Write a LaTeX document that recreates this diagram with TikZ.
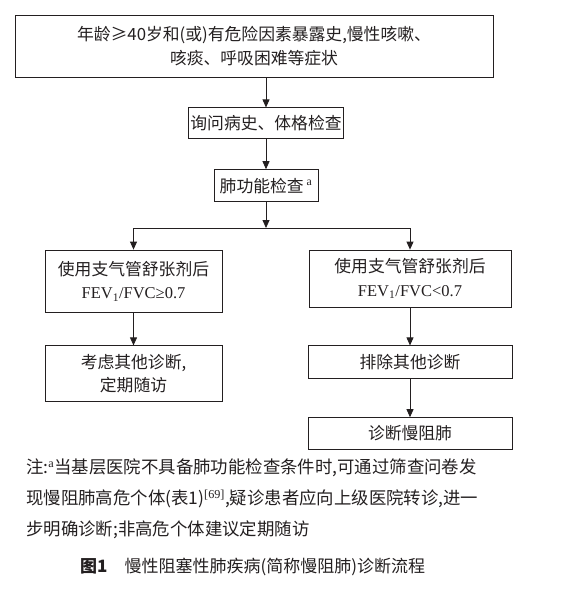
\documentclass[tikz,border=0pt]{standalone}
\usepackage{fontspec}
\setmainfont{Liberation Serif}
\newfontfamily\cjk{Noto Sans CJK SC}
\usepackage{tikz}
\usetikzlibrary{arrows.meta,positioning}
\definecolor{ink}{RGB}{35,31,32}

\begin{document}
\begin{tikzpicture}[
  x=1pt, y=-1pt,
  box/.style={draw=ink, line width=0.8pt, align=center, inner sep=0pt, text=ink,
              font=\cjk\fontsize{16.8}{23.5}\selectfont},
  arr/.style={-{Triangle[length=8pt, width=7pt]}, draw=ink, line width=0.8pt},
  note/.style={anchor=north west, align=left, inner sep=0pt, text=ink,
               font=\cjk\fontsize{17.4}{31}\selectfont}
]
\useasboundingbox (0,0) rectangle (586,596);

% main column
\node[box, minimum width=478pt, minimum height=62pt] (symptom) at (254,46)
  {年龄≥40岁和(或)有危险因素暴露史,慢性咳嗽、\\咳痰、呼吸困难等症状};
\node[box, minimum width=155pt, minimum height=31pt, below=30pt of symptom, xshift=12pt] (history)
  {询问病史、体格检查};
\node[box, minimum width=104pt, minimum height=32pt, below=30pt of history] (lungfn)
  {肺功能检查\,\textsuperscript{\rmfamily a}};

% two branches
\node[box, minimum width=177pt, minimum height=62pt] (normal) at (133.5,281)
  {使用支气管舒张剂后\\{\rmfamily\fontsize{16.5}{20}\selectfont FEV\textsubscript{1}/FVC≥0.7}};
\node[box, minimum width=202pt, minimum height=57pt] (obstr) at (410,278.5)
  {使用支气管舒张剂后\\{\rmfamily\fontsize{16.5}{20}\selectfont FEV\textsubscript{1}/FVC<0.7}};
\node[box, minimum width=177pt, minimum height=56pt, below=33pt of normal] (otherdx)
  {考虑其他诊断,\\定期随访};
\node[box, minimum width=204pt, minimum height=33pt, below=38pt of obstr] (exclude)
  {排除其他诊断};
\node[box, minimum width=204pt, minimum height=32pt, below=38pt of exclude] (copd)
  {诊断慢阻肺};
\coordinate (fork) at (lungfn.south |- 0,228);

\draw[arr] (symptom.south -| history.north) -- (history.north);
\draw[arr] (history) -- (lungfn);
\draw[arr] (lungfn) -- (fork);
\draw[ink, line width=0.8pt] (fork -| normal.north) -- (fork -| obstr.north);
\draw[arr] (fork -| normal.north) -- (normal.north);
\draw[arr] (fork -| obstr.north) -- (obstr.north);
\draw[arr] (normal) -- (otherdx);
\draw[arr] (obstr) -- (exclude);
\draw[arr] (exclude) -- (copd);

% note and caption
\node[note] (remark) at (26,459)
  {注:\textsuperscript{\rmfamily a}当基层医院不具备肺功能检查条件时,可通过筛查问卷发\\
   现慢阻肺高危个体(表1)\textsuperscript{\rmfamily [69]},疑诊患者应向上级医院转诊,进一\\
   步明确诊断;非高危个体建议定期随访};
\node[anchor=west, inner sep=0pt, text=ink, font=\cjk\fontsize{17}{20}\selectfont] (caption) at (80,567)
  {\textbf{图1}\hspace{17pt}慢性阻塞性肺疾病(简称慢阻肺)诊断流程};
\end{tikzpicture}
\end{document}
